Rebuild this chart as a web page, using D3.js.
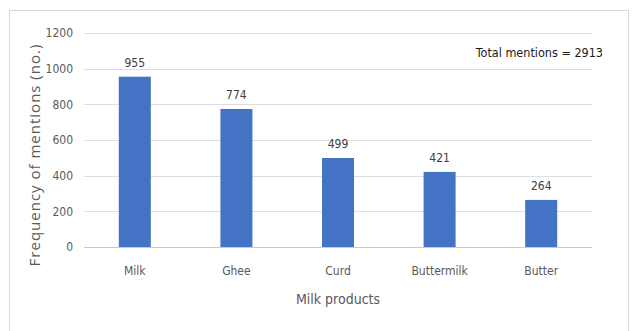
<!DOCTYPE html>
<html>
<head>
<meta charset="utf-8">
<script src="https://cdn.jsdelivr.net/npm/d3@7"></script>
<style>
  body { margin: 0; background: #fff; }
  text { font-family: "Liberation Sans Narrow", "DejaVu Sans Condensed", "Roboto Condensed", Roboto, sans-serif; }
</style>
</head>
<body>
<div id="chart"></div>
<script>
// Setting up sizes
const width = 632;
const height = 331;

const margin = { top: 33, right: 40, bottom: 84, left: 84 };

// Data
const products = ["Milk", "Ghee", "Curd", "Buttermilk", "Butter"];
const mentions = [955, 774, 499, 421, 264];
const yTicks = [0, 200, 400, 600, 800, 1000, 1200];
const totalLabel = "Total mentions = 2913";

const data = products.map((p, i) => ({ name: p, value: mentions[i] }));

const svg = d3.select("#chart")
  .append("svg")
  .attr("width", width)
  .attr("height", height);

// Chart frame
svg.append("rect")
  .attr("x", 9.5).attr("y", 10.5)
  .attr("width", 619).attr("height", 330)
  .attr("fill", "none")
  .attr("stroke", "#d9d9d9");

// Scales
const x = d3.scaleBand()
  .domain(products)
  .range([margin.left, width - margin.right])
  .paddingInner(0.685)
  .paddingOuter(0.3425);

const y = d3.scaleLinear()
  .domain([0, 1200])
  .range([height - margin.bottom, margin.top]);

// Gridlines
svg.append("g")
  .selectAll("line")
  .data(yTicks)
  .join("line")
  .attr("x1", margin.left)
  .attr("x2", width - margin.right)
  .attr("y1", d => Math.round(y(d)) + 0.5)
  .attr("y2", d => Math.round(y(d)) + 0.5)
  .attr("stroke", d => d === 0 ? "#c8c8c8" : "#dedede")
  .attr("stroke-width", 1);

// Y axis labels
const yAxis = svg.append("g")
  .attr("transform", `translate(${margin.left},0)`)
  .call(d3.axisLeft(y).tickValues(yTicks).tickFormat(d3.format("d")).tickSize(0).tickPadding(11));
yAxis.select(".domain").remove();
yAxis.selectAll("text")
  .attr("fill", "#595959")
  .style("font-size", "12px");

// Bars
svg.selectAll(".bar")
  .data(data)
  .join("rect")
  .attr("class", "bar")
  .attr("x", d => x(d.name))
  .attr("y", d => y(d.value))
  .attr("width", x.bandwidth())
  .attr("height", d => y(0) - y(d.value))
  .attr("fill", "#4472c4");

// Value labels
svg.selectAll(".val")
  .data(data)
  .join("text")
  .attr("class", "val")
  .attr("x", d => x(d.name) + x.bandwidth() / 2)
  .attr("y", d => y(d.value) - 10)
  .attr("text-anchor", "middle")
  .attr("fill", "#404040")
  .style("font-size", "12px")
  .text(d => d.value);

// X axis labels
const xAxis = svg.append("g")
  .attr("transform", `translate(0,${y(0)})`)
  .call(d3.axisBottom(x).tickSize(0).tickPadding(19));
xAxis.select(".domain").remove();
xAxis.selectAll("text")
  .attr("fill", "#595959")
  .style("font-size", "12px");

// Axis titles
svg.append("text")
  .attr("x", (margin.left + width - margin.right) / 2)
  .attr("y", 304)
  .attr("text-anchor", "middle")
  .attr("fill", "#595959")
  .style("font-size", "14px")
  .text("Milk products");

svg.append("text")
  .attr("transform", `translate(40,${(margin.top + y(0)) / 2 + 15}) rotate(-90)`)
  .attr("text-anchor", "middle")
  .attr("fill", "#595959")
  .style("font-family", "'Open Sans', sans-serif")
  .style("font-size", "15px")
  .style("letter-spacing", "1px")
  .text("Frequency of mentions (no.)");

// Total annotation
svg.append("text")
  .attr("x", 603)
  .attr("y", 57)
  .attr("text-anchor", "end")
  .attr("fill", "#1a1a1a")
  .style("font-size", "12.5px")
  .text(totalLabel);
</script>
</body>
</html>
